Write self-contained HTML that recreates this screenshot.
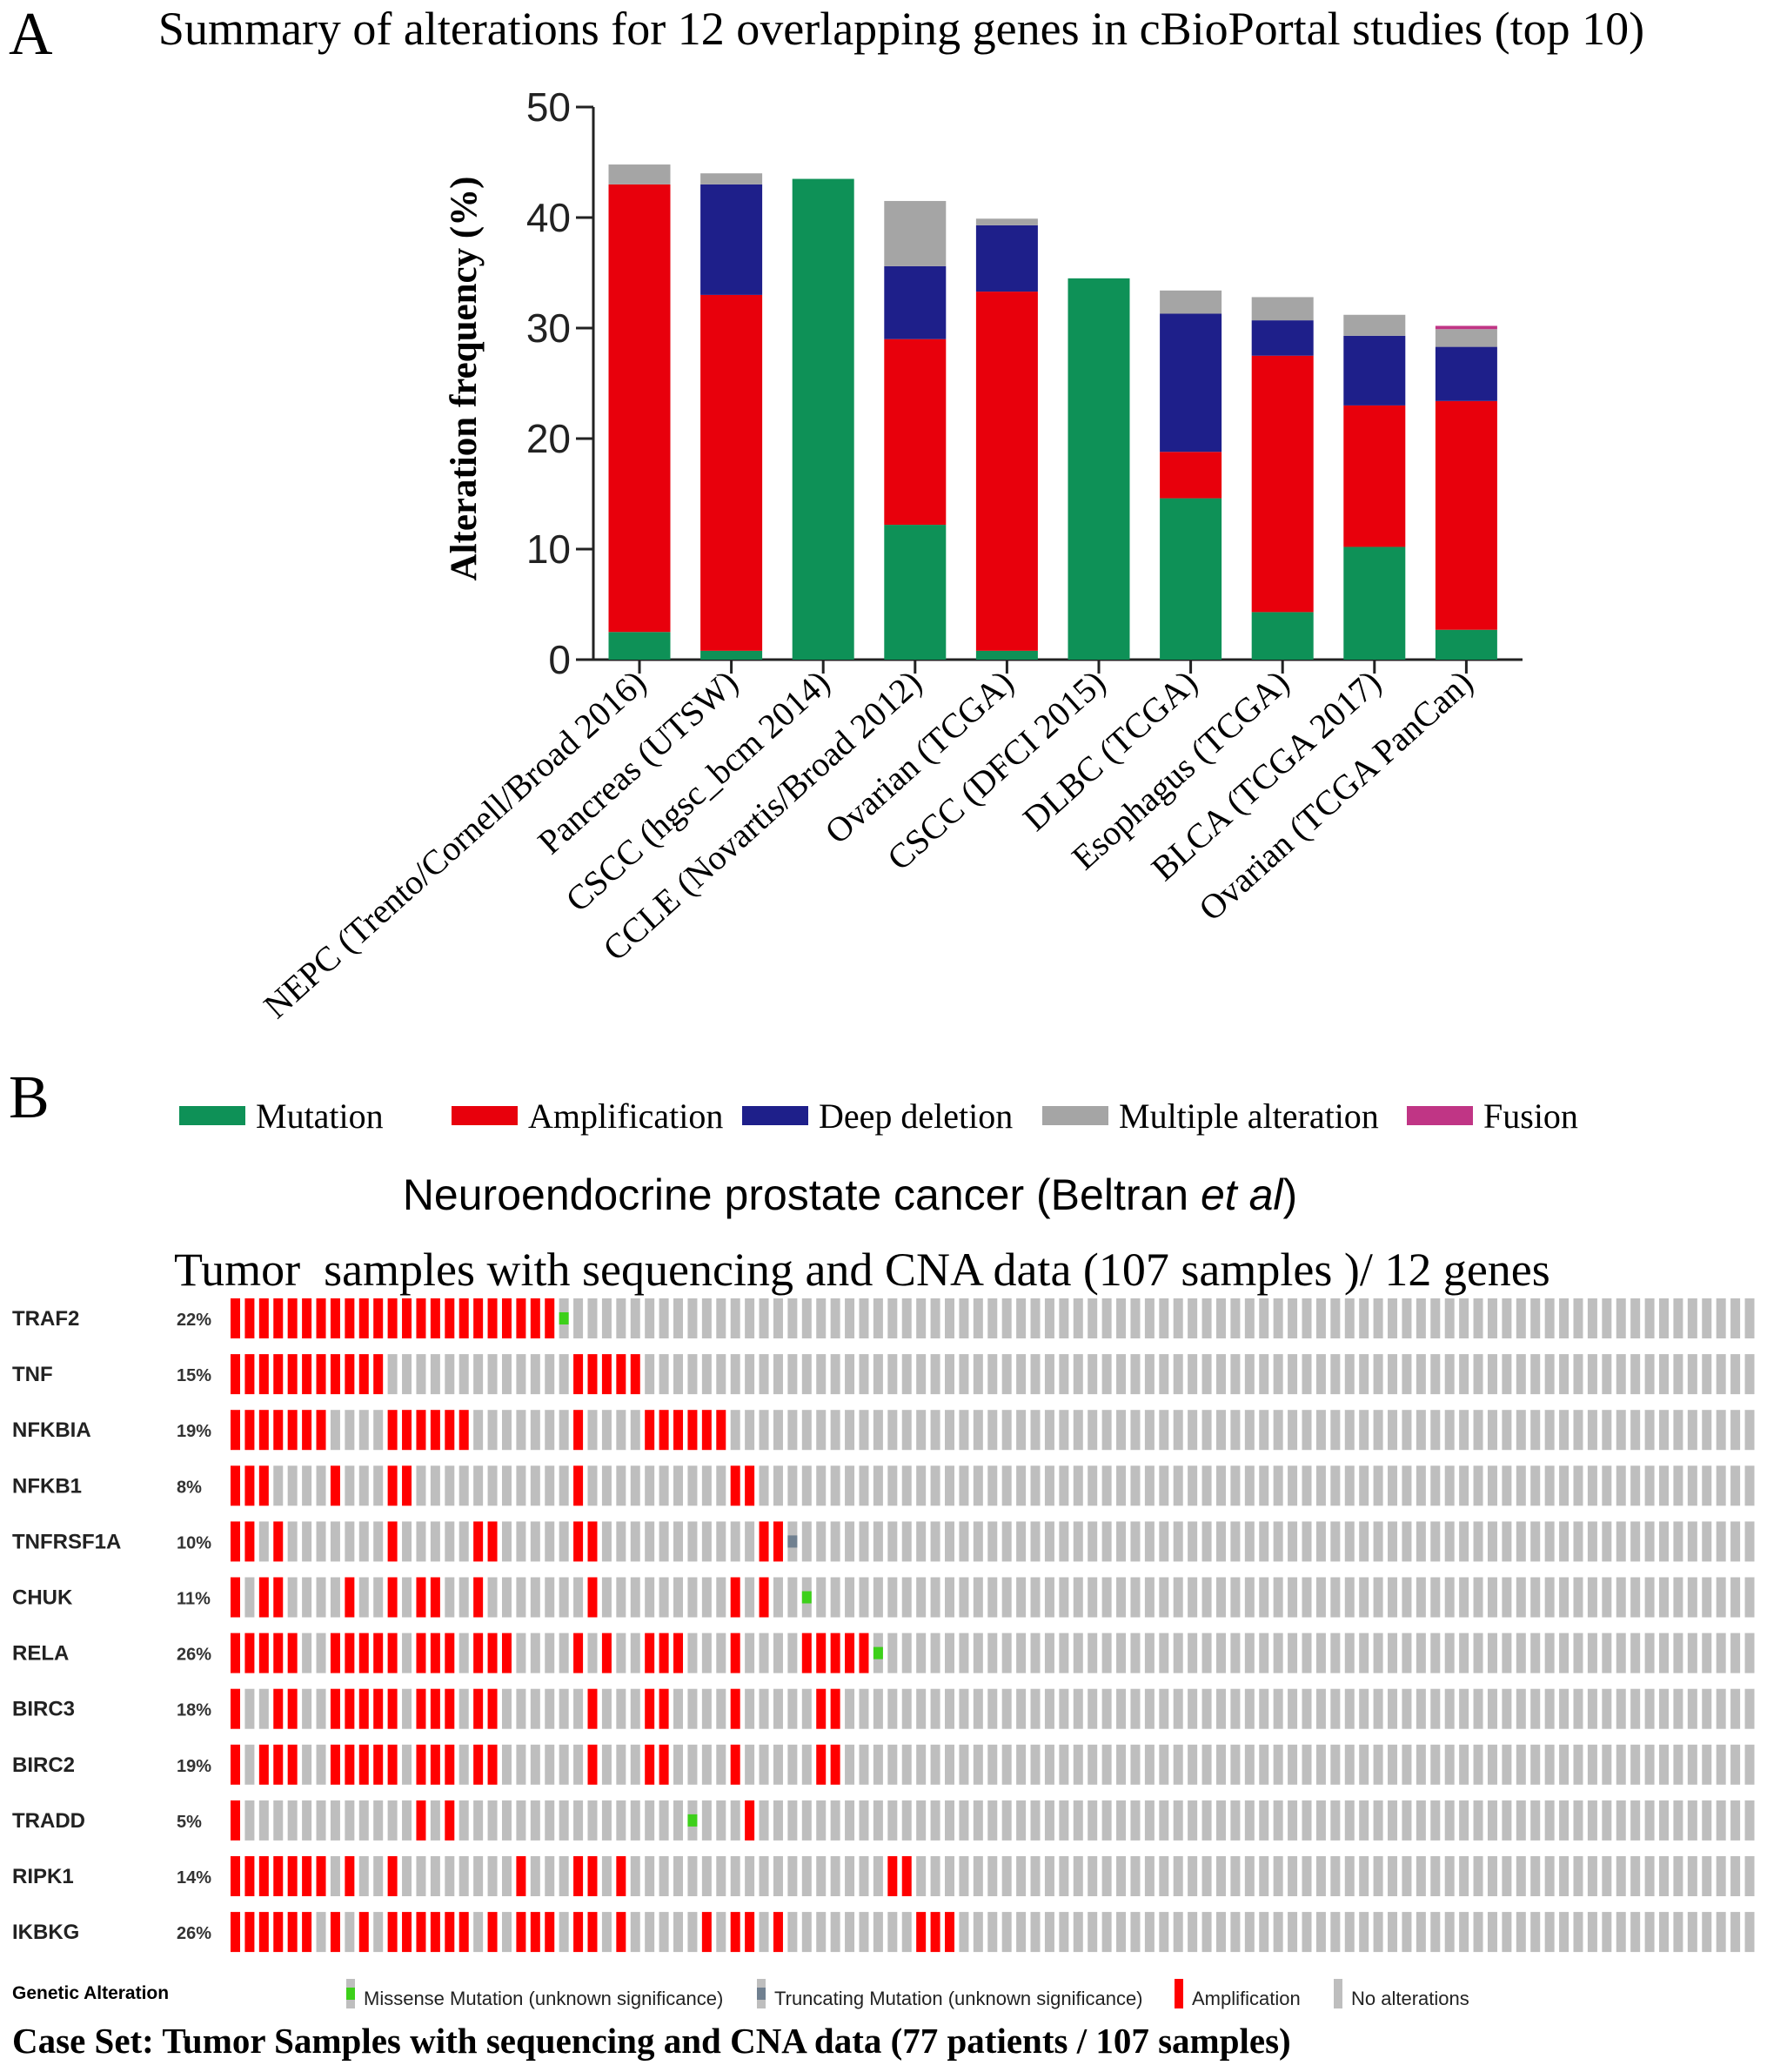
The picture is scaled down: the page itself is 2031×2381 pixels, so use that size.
<!DOCTYPE html>
<html><head><meta charset="utf-8"><style>
html,body{margin:0;padding:0;background:#fff}
svg{display:block}
.serif{font-family:"Liberation Serif",serif}
.sans{font-family:"Liberation Sans",sans-serif}
</style></head><body>
<svg id="fig" width="2031" height="2381" viewBox="0 0 2031 2381" xmlns="http://www.w3.org/2000/svg">
<text x="10" y="62" class="serif" font-size="70">A</text>
<text x="1036" y="51" class="serif" font-size="54" text-anchor="middle">Summary of alterations for 12 overlapping genes in cBioPortal studies (top 10)</text>
<g id="barchart"></g>
<text transform="translate(547,435) rotate(-90)" class="serif" font-size="43" font-weight="bold" text-anchor="middle">Alteration frequency (%)</text>

<text x="10" y="1284" class="serif" font-size="70">B</text>
<g id="legend"></g>
<text x="977" y="1390" class="sans" font-size="50" text-anchor="middle">Neuroendocrine prostate cancer (Beltran <tspan font-style="italic">et al</tspan>)</text>
<text x="200" y="1477" class="serif" font-size="54" xml:space="preserve">Tumor  samples with sequencing and CNA data (107 samples )/ 12 genes</text>
<g id="onco"></g>

<text x="14" y="2297" class="sans" font-size="21" font-weight="bold">Genetic Alteration</text>
<g>
<rect x="398" y="2274" width="10" height="34" fill="#bebebe"/>
<rect x="398" y="2284" width="10" height="14" fill="#3dd01a"/>
<text x="418" y="2304" class="sans" font-size="22" fill="#222">Missense Mutation (unknown significance)</text>
<rect x="870" y="2274" width="10" height="34" fill="#bebebe"/>
<rect x="870" y="2284" width="10" height="14" fill="#708090"/>
<text x="890" y="2304" class="sans" font-size="22" fill="#222">Truncating Mutation (unknown significance)</text>
<rect x="1350" y="2274" width="10" height="34" fill="#f00"/>
<text x="1370" y="2304" class="sans" font-size="22" fill="#222">Amplification</text>
<rect x="1533" y="2274" width="10" height="34" fill="#bebebe"/>
<text x="1553" y="2304" class="sans" font-size="22" fill="#222">No alterations</text>
</g>
<text x="14" y="2359" class="serif" font-size="41" font-weight="bold">Case Set: Tumor Samples with sequencing and CNA data (77 patients / 107 samples)</text>
</svg>
<script>
const studies = ["NEPC (Trento/Cornell/Broad 2016)","Pancreas (UTSW)","CSCC (hgsc_bcm 2014)","CCLE (Novartis/Broad 2012)","Ovarian (TCGA)","CSCC (DFCI 2015)","DLBC (TCGA)","Esophagus (TCGA)","BLCA (TCGA 2017)","Ovarian (TCGA PanCan)"];
const mutation = [2.5,0.8,43.5,12.2,0.8,34.5,14.6,4.3,10.2,2.7];
const amplification = [40.5,32.2,0,16.8,32.5,0,4.2,23.2,12.8,20.7];
const deepDeletion = [0,10,0,6.6,6,0,12.5,3.2,6.3,4.9];
const multipleAlt = [1.8,1,0,5.9,0.6,0,2.1,2.1,1.9,1.6];
const fusion = [0,0,0,0,0,0,0,0,0,0.3];
const yTicks = [0,10,20,30,40,50];

const genes = ["TRAF2","TNF","NFKBIA","NFKB1","TNFRSF1A","CHUK","RELA","BIRC3","BIRC2","TRADD","RIPK1","IKBKG"];
const genePct = ["22%","15%","19%","8%","10%","11%","26%","18%","19%","5%","14%","26%"];
const ampCols = [
 [0,1,2,3,4,5,6,7,8,9,10,11,12,13,14,15,16,17,18,19,20,21,22],
 [0,1,2,3,4,5,6,7,8,9,10,24,25,26,27,28],
 [0,1,2,3,4,5,6,11,12,13,14,15,16,24,29,30,31,32,33,34],
 [0,1,2,7,11,12,24,35,36],
 [0,1,3,11,17,18,24,25,37,38],
 [0,2,3,8,11,13,14,17,25,35,37],
 [0,1,2,3,4,7,8,9,10,11,13,14,15,17,18,19,24,26,29,30,31,35,40,41,42,43,44],
 [0,3,4,7,8,9,10,11,13,14,15,17,18,25,29,30,35,41,42],
 [0,2,3,4,7,8,9,10,11,13,14,15,17,18,25,29,30,35,41,42],
 [0,13,15,36],
 [0,1,2,3,4,5,6,8,11,20,24,25,27,46,47],
 [0,1,2,3,4,5,7,9,11,12,13,14,15,16,18,20,21,22,24,25,27,33,35,36,38,48,49,50]
];
const missenseCols = [[23],[],[],[],[],[40],[45],[],[],[32],[],[]];
const truncCols = [[],[],[],[],[39],[],[],[],[],[],[],[]];
const nSamples = 107;

const NS="http://www.w3.org/2000/svg";
function mk(tag, attrs, parent){const e=document.createElementNS(NS,tag);for(const k in attrs)e.setAttribute(k,attrs[k]);parent.appendChild(e);return e;}

// bar chart
const bc=document.getElementById('barchart');
const y0=758, yTop=123, xAxis=682, xEnd=1750;
const yScale=v=>y0-(v/50)*(y0-yTop);
const xCenter=i=>735+i*105.6;
const bw=71;
let ax=mk('line',{x1:xAxis,y1:yTop,x2:xAxis,y2:y0,stroke:'#222','stroke-width':3},bc);


let xl=mk('line',{x1:xAxis,y1:y0,x2:xEnd,y2:y0,stroke:'#222','stroke-width':3},bc);


yTicks.forEach(t=>{
  const y=yScale(t);
  const tk=mk('line',{x1:xAxis-20,y1:y,x2:xAxis,y2:y,stroke:'#222','stroke-width':3},bc);
  
  
  const tl=mk('text',{x:xAxis-26,y:y+16,'text-anchor':'end','font-size':46,'class':'sans',fill:'#222'},bc);
  tl.textContent=t;
  
  
});
const series=[[mutation,'#0e9157','mutation'],[amplification,'#e8000c','amplification'],[deepDeletion,'#1e1f8a','deep-deletion'],[multipleAlt,'#a5a5a5','multiple-alteration'],[fusion,'#c03585','fusion']];
studies.forEach((s,i)=>{
  let acc=0;
  series.forEach(([arr,col,nm])=>{
    const v=arr[i]; if(v<=0) return;
    const r=mk('rect',{x:xCenter(i)-bw/2,y:yScale(acc+v),width:bw,height:yScale(acc)-yScale(acc+v),fill:col},bc);
    
    
    acc+=v;
  });
  const tk=mk('line',{x1:xCenter(i),y1:y0,x2:xCenter(i),y2:y0+16,stroke:'#222','stroke-width':3},bc);
  
  
  const lx=xCenter(i)+10, ly=y0+30;
  const t=mk('text',{x:lx,y:ly,'text-anchor':'end','font-size':40,'class':'serif',transform:`rotate(-42 ${lx} ${ly})`},bc);
  t.textContent=s;
  
  
});

// legend
const lg=document.getElementById('legend');
const legItems=[['Mutation','#0e9157',206],['Amplification','#e8000c',519],['Deep deletion','#1e1f8a',853],['Multiple alteration','#a5a5a5',1198],['Fusion','#c03585',1617]];
legItems.forEach(([lab,col,x])=>{
  const r=mk('rect',{x:x,y:1271,width:76,height:22,fill:col},lg);
  
  
  const t=mk('text',{x:x+88,y:1296,'font-size':40,'class':'serif'},lg);
  t.textContent=lab;
  
  
});

// oncoprint
const on=document.getElementById('onco');
const cx0=265, pitch=16.42, cw=11, rowY0=1492, rowPitch=64.1, rh=46;
genes.forEach((g,r)=>{
  const y=rowY0+r*rowPitch;
  const gl=mk('text',{x:14,y:y+31,'font-size':24,'font-weight':'bold','class':'sans',fill:'#222'},on);
  gl.textContent=g;
  
  
  const pl=mk('text',{x:203,y:y+31,'font-size':20,'font-weight':'bold','class':'sans',fill:'#333'},on);
  pl.textContent=genePct[r];
  
  
  const amps=new Set(ampCols[r]);
  for(let c=0;c<nSamples;c++){
    const x=cx0+c*pitch;
    const cell=mk('rect',{x:x,y:y,width:cw,height:rh,fill:amps.has(c)?'#f00':'#bebebe'},on);
    
    
  }
  missenseCols[r].forEach(c=>{
    const m=mk('rect',{x:cx0+c*pitch,y:y+rh/2-7,width:cw,height:14,fill:'#3dd01a'},on);
    
    
  });
  truncCols[r].forEach(c=>{
    const m=mk('rect',{x:cx0+c*pitch,y:y+rh/2-7,width:cw,height:14,fill:'#708090'},on);
    
    
  });
});
</script>
</body></html>
